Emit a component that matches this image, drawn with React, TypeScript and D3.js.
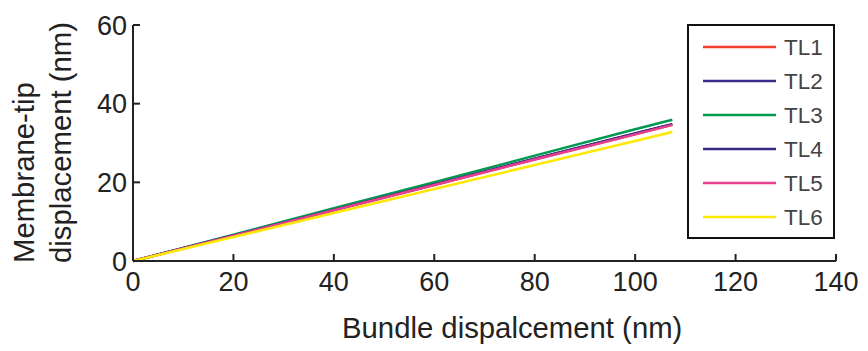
import React from "react";
import * as d3 from "d3";

const width = 868;
const height = 351;
const margin = { top: 25, right: 32, bottom: 90, left: 133 };

// bundle displacement (nm) sample points
const bundle = [0, 20, 40, 60, 80, 100, 107.4];

const seriesNames = ["TL1", "TL2", "TL3", "TL4", "TL5", "TL6"];
const seriesColors = ["#f2402f", "#3d2b8c", "#00994f", "#3a2a86", "#e8408e", "#fde800"];

// membrane-tip displacement (nm)
const tl1 = [0, 6.45, 12.9, 19.3, 25.8, 32.2, 34.6];
const tl2 = [0, 6.5, 13.0, 19.45, 26.0, 32.4, 34.8];
const tl3 = [0, 6.7, 13.4, 20.0, 26.8, 33.5, 35.9];
const tl4 = [0, 6.5, 13.0, 19.45, 26.0, 32.4, 34.8];
const tl5 = [0, 6.45, 12.9, 19.3, 25.8, 32.2, 34.6];
const tl6 = [0, 6.1, 12.2, 18.3, 24.4, 30.5, 32.8];

const seriesValues = [tl1, tl2, tl3, tl4, tl5, tl6];

const xTicks = [0, 20, 40, 60, 80, 100, 120, 140];
const yTicks = [0, 20, 40, 60];

const font = "Arial, 'Liberation Sans', sans-serif";
const axisColor = "#222";

export default function App() {
  const xScale = d3
    .scaleLinear()
    .domain([0, 140])
    .range([margin.left, width - margin.right]);
  const yScale = d3
    .scaleLinear()
    .domain([0, 60])
    .range([height - margin.bottom, margin.top]);

  const line = d3
    .line<number>()
    .x((d, i) => xScale(bundle[i]))
    .y(d => yScale(d));

  const x0 = xScale(0);
  const y0 = yScale(0);

  // legend box
  const lg = { x: 688, y: 25, w: 146, h: 213, row: 34, first: 47 };

  return (
    <svg
      width={width}
      height={height}
      style={{ position: "absolute", left: 0, top: 0, background: "#fff" }}
    >
      {/* lines */}
      {seriesValues.map((vals, i) => (
        <path
          key={i}
          d={line(vals) || ""}
          fill="none"
          stroke={seriesColors[i]}
          strokeWidth={2.5}
        />
      ))}

      {/* x axis */}
      <line x1={x0} x2={xScale(140)} y1={y0} y2={y0} stroke={axisColor} strokeWidth={2} />
      {xTicks.map(t => (
        <g key={t}>
          {t > 0 && (
            <line x1={xScale(t)} x2={xScale(t)} y1={y0} y2={y0 - 7} stroke={axisColor} strokeWidth={2} />
          )}
          <text
            x={xScale(t)}
            y={291}
            textAnchor="middle"
            fontFamily={font}
            fontSize={27}
            fill="#222"
          >
            {t}
          </text>
        </g>
      ))}

      {/* y axis */}
      <line x1={x0} x2={x0} y1={y0} y2={yScale(60)} stroke={axisColor} strokeWidth={2} />
      {yTicks.map(t => (
        <g key={t}>
          {t > 0 && (
            <line x1={x0} x2={x0 + 7} y1={yScale(t)} y2={yScale(t)} stroke={axisColor} strokeWidth={2} />
          )}
          <text
            x={127}
            y={yScale(t)}
            dy="0.36em"
            textAnchor="end"
            fontFamily={font}
            fontSize={27}
            fill="#222"
          >
            {t}
          </text>
        </g>
      ))}

      {/* axis titles */}
      <text x={342} y={338} fontFamily={font} fontSize={29.3} fill="#222">
        Bundle dispalcement (nm)
      </text>
      <text transform="translate(34,263) rotate(-90)" fontFamily={font} fontSize={29.3} fill="#222">
        Membrane-tip
      </text>
      <text transform="translate(71,263) rotate(-90)" fontFamily={font} fontSize={29.3} fill="#222">
        displacement (nm)
      </text>

      {/* legend */}
      <rect x={lg.x} y={lg.y} width={lg.w} height={lg.h} fill="#fff" stroke="#111" strokeWidth={2} />
      {seriesNames.map((name, i) => {
        const yy = lg.first + i * lg.row;
        return (
          <g key={name}>
            <line x1={703} x2={776} y1={yy} y2={yy} stroke={seriesColors[i]} strokeWidth={2.5} />
            <text x={784} y={yy} dy="0.36em" fontFamily={font} fontSize={22.5} fill="#444">
              {name}
            </text>
          </g>
        );
      })}
    </svg>
  );
}
